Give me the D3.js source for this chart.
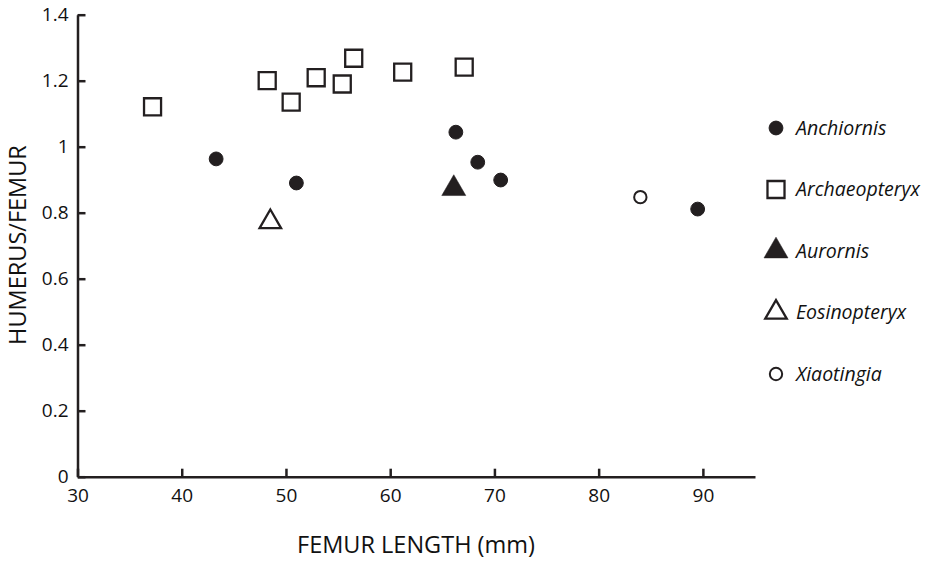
<!DOCTYPE html>
<html>
<head>
<meta charset="utf-8">
<script src="https://cdn.jsdelivr.net/npm/d3@7"></script>
<style>
  body { margin: 0; background: #fff; }
  svg { display: block; font-family: "Open Sans", sans-serif; }
</style>
</head>
<body>
<svg id="chart" width="925" height="561"></svg>
<script>
// femur length (mm) vs humerus/femur ratio
var anchiornisX = [43.3, 51.0, 66.3, 68.4, 70.6, 89.5];
var anchiornisY = [0.963, 0.890, 1.044, 0.953, 0.899, 0.811];
var archaeopteryxX = [37.2, 48.2, 50.5, 52.9, 55.4, 56.5, 61.2, 67.1];
var archaeopteryxY = [1.121, 1.200, 1.135, 1.209, 1.190, 1.268, 1.226, 1.241];
var aurornisX = [66.1];
var aurornisY = [0.873];
var eosinopteryxX = [48.5];
var eosinopteryxY = [0.772];
var xiaotingiaX = [84.0];
var xiaotingiaY = [0.847];

var species = ["Anchiornis", "Archaeopteryx", "Aurornis", "Eosinopteryx", "Xiaotingia"];
var xTicks = [30, 40, 50, 60, 70, 80, 90];
var yTicks = [0, 0.2, 0.4, 0.6, 0.8, 1, 1.2, 1.4];

var ink = "#231f20";

var svg = d3.select("#chart");

var x = d3.scaleLinear().domain([30, 95]).range([77.5, 755]);
var y = d3.scaleLinear().domain([0, 1.4]).range([476.7, 14.7]);

// marker style per species
var styles = {
    "Anchiornis":    {type: d3.symbolCircle,   size: 150, fill: ink,    sw: 1},
    "Archaeopteryx": {type: d3.symbolSquare,   size: 290, fill: "#fff", sw: 2.3},
    "Aurornis":      {type: d3.symbolTriangle, size: 250, fill: ink,    sw: 0.5},
    "Eosinopteryx":  {type: d3.symbolTriangle, size: 200, fill: "#fff", sw: 2.3},
    "Xiaotingia":    {type: d3.symbolCircle,   size: 120, fill: "#fff", sw: 2}
};

function pts(xs, ys, name) {
    return xs.map(function (v, i) { return {x: v, y: ys[i], name: name}; });
}
var data = [].concat(
    pts(anchiornisX, anchiornisY, "Anchiornis"),
    pts(archaeopteryxX, archaeopteryxY, "Archaeopteryx"),
    pts(aurornisX, aurornisY, "Aurornis"),
    pts(eosinopteryxX, eosinopteryxY, "Eosinopteryx"),
    pts(xiaotingiaX, xiaotingiaY, "Xiaotingia")
);

// axes
var xAxis = d3.axisBottom(x).tickValues(xTicks).tickSizeInner(-8).tickSizeOuter(0).tickPadding(12);
var yAxis = d3.axisLeft(y).tickValues(yTicks).tickSizeInner(-8).tickSizeOuter(0).tickPadding(9)
    .tickFormat(d3.format("~g"));

var gx = svg.append("g").attr("transform", "translate(0," + y(0) + ")").call(xAxis);
var gy = svg.append("g").attr("transform", "translate(" + x(30) + ",0)").call(yAxis);

[gx, gy].forEach(function (g) {
    g.selectAll(".domain").attr("stroke", ink).attr("stroke-width", 2.5);
    g.selectAll(".tick line").attr("stroke", ink).attr("stroke-width", 2.5);
    g.selectAll(".tick text").attr("fill", "#111").style("font-size", "19px")
        .style("font-family", "'Open Sans', sans-serif");
});

// titles
svg.append("text")
    .attr("x", 416).attr("y", 553)
    .attr("text-anchor", "middle")
    .attr("fill", "#111")
    .style("font-size", "23.5px")
    .text("FEMUR LENGTH (mm)");

svg.append("text")
    .attr("transform", "translate(26,245) rotate(-90)")
    .attr("text-anchor", "middle")
    .attr("fill", "#111")
    .style("font-size", "23.5px")
    .text("HUMERUS/FEMUR");

// points
var sym = d3.symbol();
svg.append("g").selectAll("path")
    .data(data)
    .enter().append("path")
    .attr("transform", function (d) { return "translate(" + x(d.x) + "," + y(d.y) + ")"; })
    .attr("d", function (d) { var s = styles[d.name]; return sym.type(s.type).size(s.size)(); })
    .attr("fill", function (d) { return styles[d.name].fill; })
    .attr("stroke", ink)
    .attr("stroke-width", function (d) { return styles[d.name].sw; });

// legend
var legend = svg.append("g").selectAll("g")
    .data(species)
    .enter().append("g")
    .attr("transform", function (d, i) { return "translate(776," + (128 + i * 61.5) + ")"; });

legend.append("path")
    .attr("d", function (d) { var s = styles[d]; return sym.type(s.type).size(s.size)(); })
    .attr("fill", function (d) { return styles[d].fill; })
    .attr("stroke", ink)
    .attr("stroke-width", function (d) { return styles[d].sw; });

legend.append("text")
    .attr("x", 20)
    .attr("dy", "0.35em")
    .attr("fill", "#111")
    .style("font-size", "19.5px")
    .style("font-style", "italic")
    .text(function (d) { return d; });
</script>
</body>
</html>
